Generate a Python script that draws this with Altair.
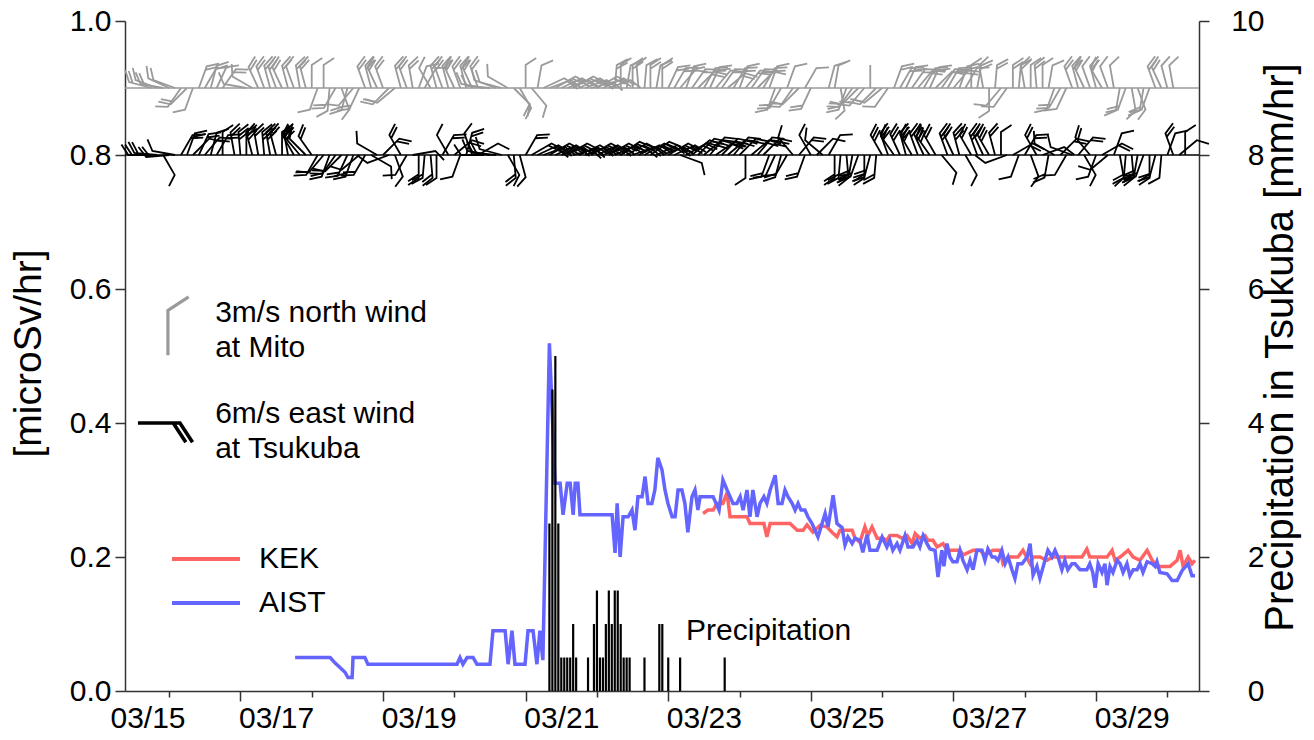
import altair as alt
import pandas as pd

FONT = "Liberation Sans"

# ---------------- dose rate, hours after 2011-03-15 00:00 ----------------
aist_hour = [
    66.4, 78.2, 79.8, 81.5, 83.2, 84.2, 85.6, 85.9, 89.9, 90.9,
    120.9, 121.9, 122.9, 124.3, 126.3, 127.6, 132.0, 133.0, 137.1, 138.1,
    139.4, 140.4, 143.8, 144.8, 146.5, 147.8, 148.8, 149.8, 152.0, 153.9,
    155.6, 156.6, 158.0, 159.0, 160.0, 160.7, 161.6, 162.3, 173.1, 174.1,
    174.8, 175.8, 176.8, 178.5, 179.8, 180.8, 181.8, 183.2, 184.2, 185.2,
    186.5, 187.5, 188.5, 189.9, 190.9, 191.9, 193.3, 194.3, 195.3, 196.6,
    197.6, 198.6, 200.0, 201.0, 202.0, 202.7, 207.1, 208.1, 209.1, 210.4,
    211.8, 212.8, 213.8, 215.1, 216.2, 217.2, 218.5, 219.5, 220.5, 221.9,
    222.9, 224.2, 225.2, 226.3, 228.0, 229.0, 230.3, 231.3, 232.3, 233.7,
    234.7, 235.7, 236.7, 238.0, 239.0, 240.4, 241.4, 242.4, 244.8, 245.8,
    247.5, 248.8, 250.5, 251.5, 252.5, 253.9, 254.9, 256.5, 257.5, 258.9,
    259.9, 262.3, 264.0, 265.6, 266.6, 267.6, 269.0, 270.0, 271.7, 272.7,
    274.4, 275.7, 276.7, 277.8, 279.1, 280.1, 281.8, 282.8, 284.1, 284.8,
    285.8, 286.8, 287.8, 289.2, 290.2, 291.2, 292.6, 293.6, 294.6, 295.9,
    297.6, 298.6, 299.6, 301.0, 302.0, 303.0, 304.3, 305.4, 306.4, 307.7,
    308.7, 309.7, 311.1, 312.8, 313.8, 314.8, 316.1, 317.1, 318.8, 319.8,
    321.2, 322.2, 323.2, 324.5, 325.5, 326.5, 327.9, 328.9, 330.6, 332.9,
    333.9, 334.9, 335.7, 336.7, 338.0, 339.0, 339.7, 340.7, 341.7, 343.1,
    344.1, 345.1, 346.4, 347.4, 348.5, 349.8, 350.8, 351.8, 353.2, 354.9,
    355.9, 356.5, 357.5, 359.9, 361.6, 363.3, 365.0, 367.0, 368.3, 369.3,
]
aist_dose = [
    0.05, 0.05, 0.042, 0.035, 0.028, 0.02, 0.02, 0.05, 0.05, 0.04,
    0.04, 0.05, 0.04, 0.05, 0.05, 0.04, 0.04, 0.09, 0.09, 0.04,
    0.09, 0.04, 0.04, 0.09, 0.09, 0.04, 0.09, 0.046, 0.519, 0.31,
    0.31, 0.263, 0.31, 0.31, 0.263, 0.31, 0.31, 0.263, 0.263, 0.206,
    0.28, 0.2, 0.26, 0.26, 0.27, 0.24, 0.29, 0.29, 0.32, 0.28,
    0.28, 0.3, 0.348, 0.33, 0.3, 0.28, 0.26, 0.26, 0.3, 0.3,
    0.28, 0.237, 0.29, 0.3, 0.27, 0.29, 0.29, 0.28, 0.27, 0.315,
    0.3, 0.29, 0.28, 0.28, 0.29, 0.27, 0.3, 0.26, 0.3, 0.26,
    0.28, 0.29, 0.28, 0.3, 0.322, 0.28, 0.28, 0.3, 0.29, 0.28,
    0.27, 0.28, 0.27, 0.27, 0.26, 0.25, 0.24, 0.23, 0.265, 0.245,
    0.292, 0.25, 0.244, 0.218, 0.23, 0.22, 0.228, 0.225, 0.207, 0.233,
    0.21, 0.21, 0.23, 0.215, 0.225, 0.21, 0.22, 0.21, 0.232, 0.215,
    0.215, 0.225, 0.215, 0.232, 0.22, 0.212, 0.21, 0.17, 0.21, 0.186,
    0.22, 0.2, 0.193, 0.193, 0.21, 0.195, 0.181, 0.195, 0.181, 0.21,
    0.21, 0.195, 0.212, 0.2, 0.2, 0.195, 0.21, 0.19, 0.2, 0.181,
    0.168, 0.19, 0.19, 0.2, 0.22, 0.173, 0.186, 0.168, 0.195, 0.21,
    0.2, 0.21, 0.2, 0.181, 0.195, 0.181, 0.19, 0.19, 0.181, 0.181,
    0.19, 0.177, 0.154, 0.19, 0.177, 0.19, 0.158, 0.186, 0.177, 0.195,
    0.19, 0.177, 0.19, 0.172, 0.181, 0.181, 0.19, 0.177, 0.193, 0.19,
    0.186, 0.193, 0.177, 0.175, 0.165, 0.165, 0.18, 0.19, 0.172, 0.172,
]
kek_hour = [
    203.7, 205.4, 207.1, 208.4, 210.4, 211.8, 212.8, 218.5, 219.5, 222.9,
    224.2, 225.2, 226.3, 233.0, 235.4, 237.4, 238.7, 240.7, 243.1, 245.4,
    247.1, 248.8, 249.8, 251.5, 253.9, 254.9, 256.5, 258.2, 259.2, 260.6,
    262.3, 264.3, 265.6, 266.6, 269.0, 270.7, 272.4, 274.1, 275.1, 276.7,
    278.4, 279.4, 281.1, 282.5, 284.5, 285.8, 287.8, 290.2, 291.2, 294.6,
    296.9, 298.6, 301.3, 303.7, 304.7, 306.4, 308.1, 309.7, 311.4, 313.8,
    314.8, 317.1, 319.5, 321.5, 323.9, 326.2, 328.2, 331.3, 332.9, 333.9,
    337.3, 339.7, 341.4, 342.4, 344.1, 346.8, 348.5, 350.8, 353.2, 354.9,
    356.5, 358.5, 360.9, 363.3, 364.3, 365.3, 367.0, 368.3, 369.3,
]
kek_dose = [
    0.265, 0.27, 0.27, 0.28, 0.28, 0.296, 0.26, 0.26, 0.25, 0.25,
    0.25, 0.23, 0.25, 0.25, 0.24, 0.24, 0.248, 0.237, 0.247, 0.245,
    0.237, 0.23, 0.24, 0.24, 0.24, 0.228, 0.222, 0.245, 0.232, 0.245,
    0.228, 0.228, 0.225, 0.232, 0.232, 0.228, 0.232, 0.22, 0.235, 0.228,
    0.232, 0.225, 0.225, 0.215, 0.22, 0.21, 0.21, 0.21, 0.203, 0.21,
    0.21, 0.203, 0.21, 0.21, 0.19, 0.2, 0.2, 0.2, 0.21, 0.19,
    0.2, 0.2, 0.195, 0.2, 0.2, 0.2, 0.2, 0.2, 0.212, 0.2,
    0.2, 0.2, 0.21, 0.195, 0.2, 0.21, 0.2, 0.195, 0.21, 0.195,
    0.186, 0.186, 0.186, 0.195, 0.21, 0.186, 0.2, 0.19, 0.195,
]

# ---------------- hourly precipitation at Tsukuba ----------------
rain_hour = [152, 153, 154, 155, 156, 157, 158, 159, 160, 161,
             165, 167, 168, 169, 170, 171, 172, 173, 174, 175,
             176, 177, 178, 179, 184, 189, 190, 192, 196, 211]
rain_mm = [2.5, 4.5, 5.0, 2.5, 0.5, 0.5, 0.5, 0.5, 1.0, 0.5,
           0.5, 1.0, 1.5, 0.5, 0.5, 1.0, 1.5, 1.0, 1.5, 1.5,
           1.0, 0.5, 0.5, 0.5, 0.5, 1.0, 1.0, 0.5, 0.5, 0.5]

# ---------------- wind (every 2 h from 03/15 10:00) ----------------
wind_hour = list(range(10, 367, 2))
mito_dir = [
    None, None, None, None, 285, 290, 280, 295, 290, 215, 225, 200,
    20, 30, 15, 25, 35, None, None, None, 280, 300, 335, 340,
    345, 340, 335, 345, 340, 350, 345, 0, 200, 0, 185, 210,
    160, 195, 220, 205, 340, 345, 335, 340, 225, 230, 345, 340,
    350, 20, 30, 330, 345, 340, 345, 335, 340, 345, 335, 340,
    280, 275, 290, 285, 300, 135, 150, 0, 140, 10, 65, 70,
    60, 65, 70, 60, 65, 70, 75, 60, 65, 70, 5, 0,
    10, 0, 355, 5, 0, 10, 0, 25, 30, 40, 20, 35,
    45, 30, 25, 40, 35, 50, 30, 20, 40, 35, 45, 30,
    20, 200, 210, 20, 215, 225, 30, 205, None, None, 15, 10,
    170, 200, 215, 225, 220, 0, 225, 230, 215, 20, 30, 25,
    35, 40, 30, 25, 45, 35, 30, 40, 20, 30, 0, 10,
    350, 180, 5, 220, 215, 0, 5, 350, 0, 355, 0, 10,
    200, 210, 205, 340, 345, 335, 340, 345, 330, 340, 350, 190,
    200, 170, 160, 190, 200, 340, 335, 345, 350, None, None,
]
mito_feathers = [
    0, 0, 0, 0, 2, 1, 2, 1, 1, 1, 2, 1,
    2, 1, 2, 1, 2, 0, 0, 0, 1, 1, 2, 2,
    2, 2, 2, 2, 1, 2, 2, 1, 1, 1, 1, 2,
    1, 2, 1, 2, 2, 2, 2, 2, 2, 1, 2, 2,
    2, 1, 1, 1, 2, 2, 2, 2, 2, 2, 2, 2,
    1, 1, 1, 1, 1, 1, 2, 1, 1, 1, 1, 2,
    2, 2, 1, 2, 2, 2, 1, 2, 2, 1, 2, 1,
    1, 2, 1, 1, 2, 1, 2, 2, 2, 1, 2, 2,
    2, 2, 2, 1, 2, 2, 2, 1, 2, 2, 1, 2,
    1, 1, 2, 1, 2, 1, 1, 2, 0, 0, 1, 1,
    1, 2, 2, 1, 2, 0, 2, 1, 1, 2, 2, 2,
    2, 2, 2, 2, 1, 2, 2, 2, 2, 1, 1, 2,
    1, 1, 2, 1, 1, 2, 1, 2, 1, 2, 1, 1,
    1, 2, 1, 2, 2, 2, 1, 2, 2, 1, 1, 1,
    2, 1, 1, 2, 1, 2, 2, 1, 1, 0, 0,
]
tsukuba_dir = [
    None, None, None, None, 270, 275, 150, 265, 280, 30, 20, 45,
    25, 40, 15, 30, 0, None, 350, 355, 0, 345, 350, 355,
    350, 345, 0, 350, 330, 320, 315, 325, 210, 220, 200, 215,
    225, 205, 200, 230, 210, 120, 300, 45, 250, 160, 330, 210,
    80, 180, 185, 175, 180, 30, 330, 50, 200, 15, 340, 60,
    270, 280, 275, 285, 150, 175, 165, 30, 60, 65, 70, 60,
    65, 70, 60, 75, 65, 70, 60, 65, 70, 60, 65, 55,
    60, 70, 65, 60, 55, 65, 70, 60, 65, 110, 60, 50,
    45, 50, 40, 55, 45, 50, 40, 45, 180, 50, 40, 45,
    200, 205, 195, 210, 320, 40, 200, 330, 45, 310, 30, 180,
    185, 175, 190, 200, 180, 195, 185, 330, 340, 325, 335, 345,
    330, 340, 335, 325, 330, 140, 340, 335, 345, 150, 330, 340,
    335, 330, 345, 0, 250, 60, 200, 30, 160, 330, 70, 190,
    300, 45, 210, 290, 40, 150, 320, 200, 60, 230, 20, 170,
    185, 175, 190, 200, 180, 195, 185, 20, 340, 50, 0,
]
tsukuba_feathers = [
    0, 0, 0, 0, 2, 2, 1, 2, 1, 2, 2, 1,
    2, 2, 1, 2, 1, 0, 2, 3, 2, 3, 2, 3,
    3, 2, 2, 3, 2, 2, 1, 2, 2, 1, 2, 2,
    1, 2, 2, 1, 2, 1, 1, 2, 1, 1, 2, 1,
    1, 2, 2, 2, 1, 2, 1, 2, 1, 2, 1, 1,
    1, 1, 2, 1, 1, 2, 1, 2, 2, 2, 3, 2,
    3, 2, 3, 2, 3, 2, 2, 3, 2, 3, 2, 3,
    2, 3, 2, 2, 3, 2, 2, 3, 2, 1, 2, 2,
    2, 3, 2, 2, 3, 2, 2, 2, 1, 2, 2, 3,
    2, 1, 2, 1, 1, 2, 2, 1, 1, 1, 1, 2,
    2, 2, 3, 2, 2, 3, 2, 3, 3, 2, 3, 3,
    3, 2, 3, 3, 2, 1, 3, 2, 3, 1, 2, 3,
    2, 3, 2, 1, 1, 2, 1, 2, 1, 2, 1, 2,
    1, 2, 1, 1, 2, 1, 2, 1, 2, 1, 1, 1,
    2, 2, 3, 2, 2, 2, 1, 1, 2, 1, 1,
]

MITO_LEVEL = 0.9
TSUKUBA_LEVEL = 0.8
GRAY = "#9a9a9a"

# key barbs of the legend: 3 m/s north wind at Mito, 6 m/s east wind at Tsukuba
key_station = ["Mito", "Tsukuba"]
key_dir = [0, 90]
key_feathers = [1, 2]
key_hour = [23.6, 13.5]
key_level = [0.501, 0.4]

notes_text = [["3m/s north wind", "at Mito"], ["6m/s east wind", "at Tsukuba"], ["Precipitation"]]
notes_hour = [39.5, 39.5, 198.0]
notes_level = [0.551, 0.4, 0.076]

# barb glyphs (shaft pointing north, feathers at the tip)
B0 = "M0,0L0,-1"
B1 = B0 + "L0.46,-1.3"
B2 = B1 + "M0,-0.84L0.46,-1.14"
B3 = B2 + "M0,-0.68L0.46,-0.98"


def to_day(h):
    return 15 + h / 24.0


kek_df = pd.DataFrame({"day": [to_day(h) for h in kek_hour], "dose": kek_dose, "series": "KEK"})
aist_df = pd.DataFrame({"day": [to_day(h) for h in aist_hour], "dose": aist_dose, "series": "AIST"})
rain_df = pd.DataFrame({"day": [to_day(h) for h in rain_hour], "mm": rain_mm})


def barb_frame(dirs, feathers, level):
    rows = []
    for h, d, f in zip(wind_hour, dirs, feathers):
        if d is not None:
            rows.append({"day": to_day(h), "level": level, "dir": d, "f": str(f)})
    return pd.DataFrame(rows)


mito_df = barb_frame(mito_dir, mito_feathers, MITO_LEVEL)
tsu_df = barb_frame(tsukuba_dir, tsukuba_feathers, TSUKUBA_LEVEL)
key_df = pd.DataFrame({"station": key_station, "day": [to_day(h) for h in key_hour],
                       "level": key_level, "dir": key_dir, "f": [str(f) for f in key_feathers]})
notes_df = pd.DataFrame({"day": [to_day(h) for h in notes_hour], "level": notes_level, "text": notes_text})
base_df = pd.DataFrame({"level": [MITO_LEVEL, TSUKUBA_LEVEL], "station": ["Mito", "Tsukuba"]})

x_values = [15.5, 16, 17, 17.5, 18, 19, 19.5, 20, 21, 21.5, 22, 23, 23.5, 24,
            25, 25.5, 26, 27, 27.5, 28, 29, 29.5, 30]

x_axis = alt.Axis(
    values=x_values,
    labelExpr="(datum.value % 2 == 1.5) ? '03/' + floor(datum.value) : ''",
    tickSize={"condition": {"test": "datum.value % 2 == 1", "value": 10}, "value": 6},
    tickOpacity={"condition": {"test": "datum.value % 1 != 0", "value": 0}, "value": 1},
    labelOffset={"condition": {"test": "datum.value < 16", "value": 14}, "value": 0},
    labelPadding=6, labelOverlap=False, labelFontSize=30, title=None, grid=False,
)
x_scale = alt.Scale(domain=[15.381, 30.444], nice=False, zero=False)
y_scale = alt.Scale(domain=[0, 1], nice=False, zero=True)
X = alt.X("day:Q", scale=x_scale, axis=x_axis)
Yl = alt.Y("level:Q", scale=y_scale, axis=None)

shape_enc = alt.Shape("f:N", scale=alt.Scale(domain=["0", "1", "2", "3"], range=[B0, B1, B2, B3]), legend=None)
angle_enc = alt.Angle("dir:Q", scale=None)

y_axis = alt.Axis(
    orient="left", values=[0, 0.2, 0.4, 0.6, 0.8, 1.0], format=".1f", tickSize=10,
    labelPadding=4, labelFontSize=30, title="[microSv/hr]", titleFontSize=39,
    titleAngle=-90, titleX=-85, titleY=332, titleAlign="center", titleBaseline="alphabetic",
    grid=False,
)
y2_axis = alt.Axis(
    orient="right", values=[0, 2, 4, 6, 8, 10], format="d", tickSize=10,
    labelPadding=55, labelAlign="right", labelFontSize=30,
    title="Precipitation in Tsukuba [mm/hr]", titleFontSize=40,
    titleAngle=-90, titleX=93, titleY=326, titleAlign="center", titleBaseline="alphabetic",
    grid=False,
)

color_enc = alt.Color(
    "series:N",
    scale=alt.Scale(domain=["KEK", "AIST"], range=["#ff6464", "#6464ff"]),
    legend=alt.Legend(orient="none", legendX=62, legendY=519, title=None,
                      symbolType="M-2,0L2,0", symbolSize=1156, symbolStrokeWidth=4,
                      labelFontSize=30, labelFont=FONT, labelOffset=34, rowPadding=10,
                      padding=0, labelColor="#000"),
)

base_mito = alt.Chart(base_df).transform_filter("datum.station == 'Mito'").mark_rule(
    strokeWidth=1.5, color=GRAY).encode(y=Yl)
base_tsu = alt.Chart(base_df).transform_filter("datum.station == 'Tsukuba'").mark_rule(
    strokeWidth=1.5, color="#000000").encode(y=Yl)

BARB_SIZE = 2116  # shaft of about 23 px
mito = alt.Chart(mito_df).mark_point(filled=False, strokeWidth=1.8, opacity=1, size=BARB_SIZE, color=GRAY).encode(
    x=X, y=Yl, shape=shape_enc, angle=angle_enc,
)
tsukuba = alt.Chart(tsu_df).mark_point(filled=False, strokeWidth=1.8, opacity=1, size=BARB_SIZE, color="#000000").encode(
    x=X, y=Yl, shape=shape_enc, angle=angle_enc,
)
key_mito = alt.Chart(key_df).transform_filter("datum.station == 'Mito'").mark_point(
    filled=False, strokeWidth=3.2, opacity=1, size=8100, color=GRAY).encode(
    x=X, y=Yl, shape=shape_enc, angle=angle_enc,
)
key_tsu = alt.Chart(key_df).transform_filter("datum.station == 'Tsukuba'").mark_point(
    filled=False, strokeWidth=3.6, opacity=1, size=7056, color="#000000").encode(
    x=X, y=Yl, shape=shape_enc, angle=angle_enc,
)

kek_line = alt.Chart(kek_df).mark_line(strokeWidth=3.5).encode(
    x=X, y=alt.Y("dose:Q", scale=y_scale, axis=None), color=color_enc,
)
aist_line = alt.Chart(aist_df).mark_line(strokeWidth=3.5).encode(
    x=X, y=alt.Y("dose:Q", scale=y_scale, axis=y_axis), color=color_enc,
)

notes = alt.Chart(notes_df).mark_text(
    align="left", baseline="alphabetic", fontSize=30, font=FONT, lineHeight=35, color="#000"
).encode(x=X, y=Yl, text="text")

rain = alt.Chart(rain_df).mark_rule(strokeWidth=2.2, color="#000000").encode(
    x=X,
    y=alt.Y("mm:Q", scale=alt.Scale(domain=[0, 10], nice=False), axis=y2_axis),
    y2=alt.datum(0),
)

chart = alt.layer(
    base_mito, base_tsu, mito, tsukuba, key_mito, key_tsu, kek_line, aist_line, notes, rain
).resolve_scale(y="independent").properties(
    width=1074, height=670,
    padding={"left": 125, "top": 21, "right": 115, "bottom": 49},
    autosize=alt.AutoSizeParams(type="none"),
).configure_view(strokeOpacity=0).configure_axis(
    labelFont=FONT, titleFont=FONT, labelColor="#000", titleColor="#000",
    domainColor="#333", tickColor="#333", domainWidth=1.5, tickWidth=1.5,
    titleFontWeight="normal",
)

chart.save("out.html", embed_options={"renderer": "svg", "actions": False})
